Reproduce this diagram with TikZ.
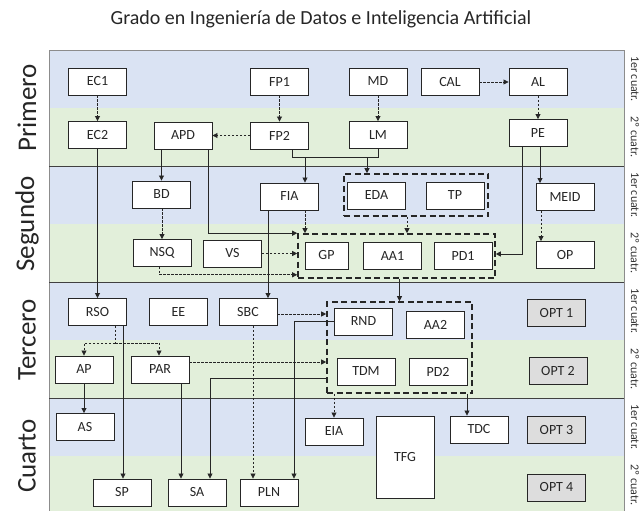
\documentclass[tikz,border=0pt]{standalone}
\usepackage{fontspec}
\setmainfont{Carlito}
\usetikzlibrary{arrows.meta}
\definecolor{bandblue}{HTML}{DAE3F3}
\definecolor{bandgreen}{HTML}{E2EFDA}
\definecolor{optgray}{HTML}{DDDDDD}
\definecolor{linec}{HTML}{262626}
\definecolor{framec}{HTML}{8C8C8C}
\begin{document}
\begin{tikzpicture}[x=1pt,y=-1pt,
  course/.style={draw=linec, line width=0.9pt, fill=white, minimum width=58pt, minimum height=27pt, inner sep=0pt, font=\fontsize{14}{16}\selectfont, text=black!85},
  opt/.style={course, fill=optgray},
  grp/.style={draw=linec, line width=1.6pt, dash pattern=on 6pt off 3.5pt, inner sep=0pt},
  conn/.style={draw=linec, line width=0.8pt, -{Triangle[length=5pt,width=5pt]}},
  dconn/.style={conn, dash pattern=on 2.5pt off 1.5pt},
  plain/.style={draw=linec, line width=0.8pt},
  dplain/.style={plain, dash pattern=on 2.5pt off 1.5pt},
  year/.style={rotate=90, font=\fontsize{27}{30}\selectfont, text=black!85},
  cuatr/.style={rotate=-90, font=\fontsize{12}{14}\selectfont, text=black!80},
]
\useasboundingbox (0,0) rectangle (641,511);
\clip (0,0) rectangle (641,511);

% bands
\foreach \y in {50,166,282,398}{
  \fill[bandblue] (49,\y) rectangle (624,\y+58);
  \fill[bandgreen] (49,\y+58) rectangle (624,\y+116);
}
\draw[framec, line width=0.8pt] (49,511) -- (49,50) -- (624,50) -- (624,511);
\foreach \y in {166,282,398}{
  \draw[black!75, line width=0.8pt] (49,\y) -- (624,\y);
}

% title
\node[font=\fontsize{20}{23}\selectfont, text=black!85] (title) at (321,19) {Grado en Ingeniería de Datos e Inteligencia Artificial};

% year labels
\node[year] (y1) at (27,108) {Primero};
\node[year] (y2) at (27,224) {Segundo};
\node[year] (y3) at (27,340) {Tercero};
\node[year] (y4) at (27,456) {Cuarto};

% semester labels
\node[cuatr] (q1) at (635,79) {1er cuatr.};
\node[cuatr] (q2) at (635,137) {2º cuatr.};
\node[cuatr] (q3) at (635,195) {1er cuatr.};
\node[cuatr] (q4) at (635,253) {2º cuatr.};
\node[cuatr] (q5) at (635,311) {1er cuatr.};
\node[cuatr] (q6) at (635,369) {2º cuatr.};
\node[cuatr] (q7) at (635,427) {1er cuatr.};
\node[cuatr] (q8) at (635,485) {2º cuatr.};

% groups
\node[grp, minimum width=144pt, minimum height=42pt] (g1) at (416,195) {};
\node[grp, minimum width=197pt, minimum height=44pt] (g2) at (396.5,256) {};
\node[grp, minimum width=145pt, minimum height=91pt] (g3) at (399.5,347.5) {};

% Primero
\node[course] (EC1) at (97.5,81.5) {EC1};
\node[course] (FP1) at (279.5,81.5) {FP1};
\node[course] (MD) at (378,81.5) {MD};
\node[course] (CAL) at (450,82) {CAL};
\node[course] (AL) at (538,82) {AL};
\node[course] (EC2) at (97.5,135) {EC2};
\node[course] (APD) at (183,135.5) {APD};
\node[course] (FP2) at (279.5,135.5) {FP2};
\node[course] (LM) at (378,135) {LM};
\node[course] (PE) at (538,133) {PE};

% Segundo
\node[course] (BD) at (161.5,194.5) {BD};
\node[course] (FIA) at (289.5,196.5) {FIA};
\node[course] (EDA) at (376.5,195.5) {EDA};
\node[course] (TP) at (455,195.5) {TP};
\node[course] (MEID) at (565,197) {MEID};
\node[course] (NSQ) at (162,253) {NSQ};
\node[course] (VS) at (232.5,253.5) {VS};
\node[course, minimum width=43pt] (GP) at (326.5,255.5) {GP};
\node[course] (AA1) at (392.5,255.5) {AA1};
\node[course] (PD1) at (463,256) {PD1};
\node[course] (OP) at (565,255) {OP};

% Tercero
\node[course] (RSO) at (97.5,312) {RSO};
\node[course] (EE) at (178.5,312) {EE};
\node[course] (SBC) at (248,312) {SBC};
\node[course] (RND) at (363.5,321.5) {RND};
\node[course] (AA2) at (435.5,324.5) {AA2};
\node[opt] (OPT1) at (556.5,313) {OPT 1};
\node[course] (AP) at (84,369.5) {AP};
\node[course] (PAR) at (160,369.5) {PAR};
\node[course] (TDM) at (366,371.5) {TDM};
\node[course] (PD2) at (438,371.5) {PD2};
\node[opt] (OPT2) at (558,371) {OPT 2};

% Cuarto
\node[course] (AS) at (85,427) {AS};
\node[course] (EIA) at (334,431.5) {EIA};
\node[course, minimum height=82pt] (TFG) at (405,457) {TFG};
\node[course] (TDC) at (479,429.5) {TDC};
\node[opt] (OPT3) at (556.5,430) {OPT 3};
\node[course] (SP) at (122,492.5) {SP};
\node[course] (SA) at (197,492.5) {SA};
\node[course] (PLN) at (269,492.5) {PLN};
\node[opt] (OPT4) at (556.5,487.5) {OPT 4};

% ---- connectors ----
\draw[dconn] (EC1.south) -- (EC2.north);
\draw[dconn] (FP1.south) -- (FP2.north);
\draw[dconn] (MD.south) -- (LM.north);
\draw[dconn] (CAL.east) -- (AL.west);
\draw[dconn] (AL.south) -- (PE.north);
\draw[dconn] (FP2.west) -- (APD.east);

\draw[conn] (EC2.south) -- (RSO.north);
\draw[conn] (APD.south -| BD.north) -- (BD.north);
\draw[conn] ([xshift=25pt]APD.south) |- (g2.north west);

\draw[plain] ([xshift=12.5pt]FP2.south) -- ++(0,8) coordinate (j) -| (LM.south);
\coordinate (fiaIn) at ([xshift=15.5pt]FIA.north);
\draw[conn] (fiaIn |- j) -- (fiaIn);
\coordinate (g1In) at ([xshift=-49pt]g1.north);
\draw[conn] (g1In |- j) -- (g1In);

\coordinate (fiaOut) at ([xshift=15.5pt]FIA.south);
\draw[dconn] (fiaOut) -- (fiaOut |- g2.north);
\coordinate (fiaOut2) at ([xshift=-21.5pt]FIA.south);
\draw[conn] (fiaOut2) -- (fiaOut2 |- SBC.north);
\coordinate (g1Out) at ([xshift=-9pt]g1.south);
\draw[dconn] (g1Out) -- (g1Out |- g2.north);

\draw[dconn] (BD.south -| NSQ.north) -- (NSQ.north);
\draw[dconn] ([xshift=-3pt]NSQ.south) |- ([yshift=4pt]g2.south west);
\draw[dconn] (VS.east) -- (VS.east -| g2.west);

\coordinate (peOut1) at ([xshift=2pt]PE.south);
\draw[conn] (peOut1) -- (peOut1 |- MEID.north);
\draw[conn] ([xshift=-16pt]PE.south) |- ([yshift=2pt]g2.east);
\coordinate (meidOut) at ([xshift=-24pt]MEID.south);
\draw[dconn] (meidOut) -- (meidOut |- OP.north);

\draw[conn] (g3.north |- g2.south) -- (g3.north);

\draw[dplain] ([xshift=17.5pt]RSO.south) -- ++(0,17) coordinate (rj);
\draw[dconn] (rj) -| (AP.north);
\draw[dconn] (rj) -| ([xshift=-1pt]PAR.north);
\coordinate (rsoOut) at ([xshift=25.5pt]RSO.south);
\draw[conn] (rsoOut) -- (rsoOut |- SP.north);

\draw[dconn] ([yshift=-2pt]SBC.east) -- ([yshift=-2pt]SBC.east -| g3.west);
\draw[dconn] ([yshift=7.5pt]PAR.east) -- ([yshift=7.5pt]PAR.east -| g3.west);
\coordinate (sbcOut) at ([xshift=5pt]SBC.south);
\draw[dconn] (sbcOut) -- (sbcOut |- PLN.north);

\coordinate (plnIn) at ([xshift=25pt]PLN.north);
\draw[conn] (RND.west) -| (plnIn);
\coordinate (saIn) at ([xshift=13pt]SA.north);
\draw[conn] ([yshift=-6.5pt]TDM.west -| g3.west) -| (saIn);
\coordinate (parOut) at ([xshift=21pt]PAR.south);
\draw[conn] (parOut) -- (parOut |- SA.north);
\draw[conn] (AP.south) -- (AP.south |- AS.north);

\draw[dconn] (EIA.north |- g3.south) -- (EIA.north);
\coordinate (tdcIn) at ([xshift=-12pt]TDC.north);
\draw[conn] (tdcIn |- g3.south) -- (tdcIn);
\end{tikzpicture}
\end{document}
